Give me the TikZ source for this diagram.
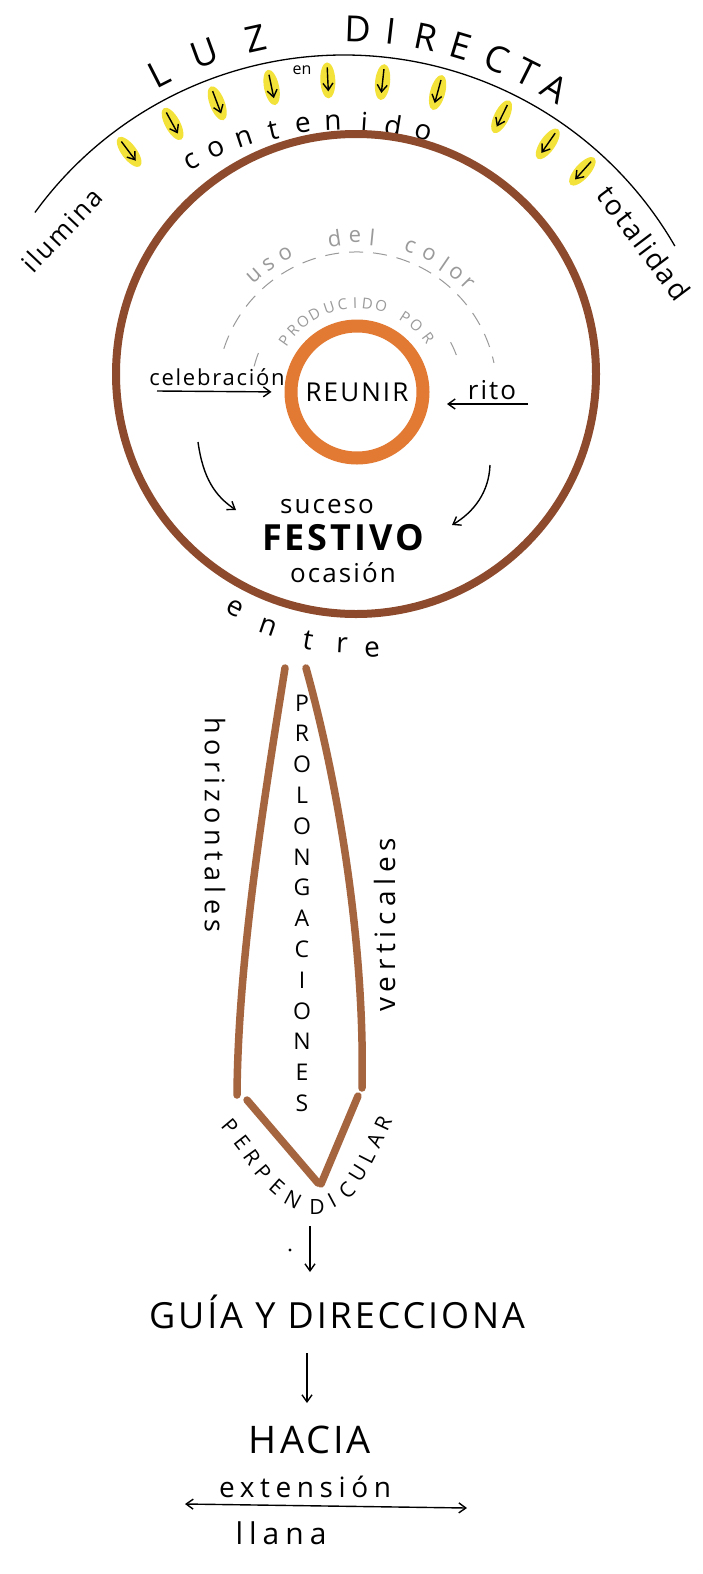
\documentclass[tikz,border=0pt]{standalone}
\usepackage{fontspec}
\setmainfont{Open Sans}
\newfontfamily\loose{Open Sans}[LetterSpace=8]
\newfontfamily\airy{Open Sans}[LetterSpace=20]
\usetikzlibrary{arrows.meta,calc,shapes.geometric}
\definecolor{rimbrown}{HTML}{8E4A2C}
\definecolor{stickbrown}{HTML}{A5653F}
\definecolor{ringorange}{HTML}{E27A34}
\definecolor{marker}{HTML}{F2E23A}
\definecolor{pencil}{HTML}{9A9A9A}
\newcommand\handpt[1]{\fontsize{#1}{#1}\selectfont}

\begin{document}
\begin{tikzpicture}[x=1pt, y=-1pt,
    >={Straight Barb[length=7pt, width=10pt]},
    arr/.style={->, line width=1.4pt},
    rim/.style={circle, draw=rimbrown, line width=8pt, minimum size=480pt},
    core/.style={circle, draw=ringorange, line width=13pt, minimum size=132pt, inner sep=0pt, font=\loose\handpt{26}},
    blob/.style={ellipse, fill=marker, minimum width=36pt, minimum height=15pt, inner sep=0pt},
    stick/.style={draw=stickbrown, line width=7.5pt, line cap=round},
    lbl/.style={inner sep=0pt},
    faint/.style={draw=pencil, line width=1pt, dash pattern=on 14pt off 10pt}
]
    \useasboundingbox (0,0) rectangle (702,1574);
    \fill[white] (0,0) rectangle (702,1574);

    % light from above
    \coordinate (sky) at (344,437);
    \draw[line width=1.3pt] ($(sky)+(-144:382)$) arc[start angle=-144, end angle=-30, radius=382];
    \foreach \ch/\a [count=\i] in {L/-117, U/-110, Z/-102.5, D/-88, I/-83.4, R/-78.4, E/-73.3, C/-68, T/-63.4, A/-58.8}
        \node[lbl, font=\handpt{36}, rotate={-90-(\a)}] (luz\i) at ($(sky)+(\a:408)$) {\ch};
    \foreach \a [count=\i] in {-127, -118.7, -110.8, -101.7, -92.6, -83.8, -74.8, -63.8, -55.2, -48.1} {
        \node[blob, rotate={-(\a)}] (ray\i) at ($(sky)+(\a:357)$) {};
        \draw[arr] ($(sky)+(\a:370)$) -- ($(sky)+(\a:346)$);
    }
    \node[lbl, font=\handpt{16}] (en) at (302,70) {en};
    \foreach \ch/\a [count=\i] in {c/-119, o/-114, n/-108.4, t/-103, e/-97.5, n/-92, i/-86.3, d/-81, o/-75.5}
        \node[lbl, font=\handpt{28}, rotate={-90-(\a)}] (cont\i) at ($(sky)+(\a:315)$) {\ch};
    \node[lbl, font=\loose\handpt{26}, rotate=46.6] (ilumina) at (62,230) {ilumina};
    \node[lbl, font=\loose\handpt{28}, rotate=-53] (totalidad) at (644,243) {totalidad};

    % disc and core
    \node[rim] (disc) at (356,374) {};
    \node[core] (reunir) at (357,392) {REUNIR};

    % pencil notes
    \draw[faint] ($(reunir.center)+(-162:140)$) arc[start angle=-162, end angle=-12, radius=140];
    \draw[faint] ($(reunir.center)+(-166:106)$) arc[start angle=-166, end angle=-155, radius=106];
    \draw[faint] ($(reunir.center)+(-28:106)$) arc[start angle=-28, end angle=-17, radius=106];
    \foreach \ch/\a [count=\i] in {u/-131.6, s/-124.8, o/-117.6, d/-98.4, e/-90.8, l/-84.4, c/-70, o/-62.3, l/-55.7, o/-50.3, r/-44.5}
        \node[lbl, text=pencil, font=\handpt{22}, rotate={-90-(\a)}] (uso\i) at ($(reunir.center)+(\a:155)$) {\ch};
    \foreach \ch/\a [count=\i] in {P/-144.5, R/-135.9, O/-127.4, D/-118.6, U/-108.2, C/-99.4, I/-91.3, D/-83.3, O/-74.3, P/-57.4, O/-48.2, R/-37}
        \node[lbl, text=pencil, font=\handpt{15}, rotate={-90-(\a)}] (prod\i) at ($(reunir.center)+(\a:89)$) {\ch};

    % inside the disc
    \node[lbl, font=\loose\handpt{22}] (celeb) at (217,377) {celebración};
    \node[lbl, font=\loose\handpt{26}] (rito) at (492,390) {rito};
    \coordinate (celebtail) at (157,391);
    \coordinate (ritotail) at (528,404);
    \coordinate (ritohead) at (447,404);
    \draw[arr, shorten >=13pt] (celebtail) -- (reunir.west);
    \draw[arr] (ritotail) -- (ritohead);
    \node[lbl, font=\loose\handpt{26}] (suceso) at (327,507) {suceso};
    \node[lbl, font=\loose\bfseries\handpt{36}] (festivo) at (343,538) {FESTIVO};
    \node[lbl, font=\loose\handpt{26}] (ocasion) at (343,573) {ocasión};
    \coordinate (lefttail) at (198,442);
    \coordinate (lefthead) at (236,510);
    \coordinate (righttail) at (490,465);
    \coordinate (righthead) at (452,525);
    \draw[arr] (lefttail) .. controls (203,478) and (215,496) .. (lefthead);
    \draw[arr] (righttail) .. controls (489,492) and (474,512) .. (righthead);

    \foreach \ch/\px/\py/\r [count=\i] in {e/235/608/-27, n/268/627/-19, t/308/640/-10, r/342/645/-3, e/372/650/3}
        \node[lbl, font=\handpt{28}, rotate=\r] (entre\i) at (\px,\py) {\ch};

    % prolongations
    \draw[stick] (285,668) .. controls (264,800) and (238,960) .. (237,1095);
    \draw[stick] (306,668) .. controls (340,790) and (365,950) .. (362,1088);
    \draw[stick] (247,1100) -- (318,1183);
    \draw[stick] (358,1096) -- (321,1184);
    \foreach \ch [count=\i] in {P,R,O,L,O,N,G,A,C,I,O,N,E,S}
        \node[lbl, font=\handpt{23}] (pro\i) at (302,{672+30.8*\i}) {\ch};
    \node[lbl, font=\airy\handpt{27}, rotate=-90] (horiz) at (215,825) {horizontales};
    \node[lbl, font=\airy\handpt{28}, rotate=90] (vert) at (385,925) {verticales};
    \foreach \ch/\px/\py/\r [count=\i] in {P/230/1127/-50, E/242/1142/-52, R/252/1157/-54, P/263/1173/-50, E/277/1187/-42, N/293/1200/-28, D/317/1207/0, I/332/1200/28, C/347/1190/45, U/358/1173/58, L/367/1157/63, A/375/1140/65, R/383/1123/65}
        \node[lbl, font=\handpt{21}, rotate=\r] (pp\i) at (\px,\py) {\ch};

    % toward the plain
    \coordinate (drop) at (310,1226);
    \coordinate (droptip) at (310,1272);
    \draw[arr] (drop) -- (droptip);
    \fill (290,1250) circle[radius=1.6];
    \node[lbl, font=\loose\handpt{36}] (guia) at (337,1312) {GUÍA Y DIRECCIONA};
    \coordinate (drop2) at (307,1353);
    \coordinate (drop2tip) at (307,1403);
    \draw[arr] (drop2) -- (drop2tip);
    \node[lbl, font=\loose\handpt{38}] (hacia) at (310,1440) {HACIA};
    \node[lbl, font=\airy\handpt{28}] (ext) at (305,1487) {extensión};
    \coordinate (spanl) at (185,1504);
    \coordinate (spanr) at (467,1508);
    \draw[arr, <->] (spanl) -- (spanr);
    \node[lbl, font=\airy\handpt{30}] (llana) at (281,1533) {llana};
\end{tikzpicture}
\end{document}
